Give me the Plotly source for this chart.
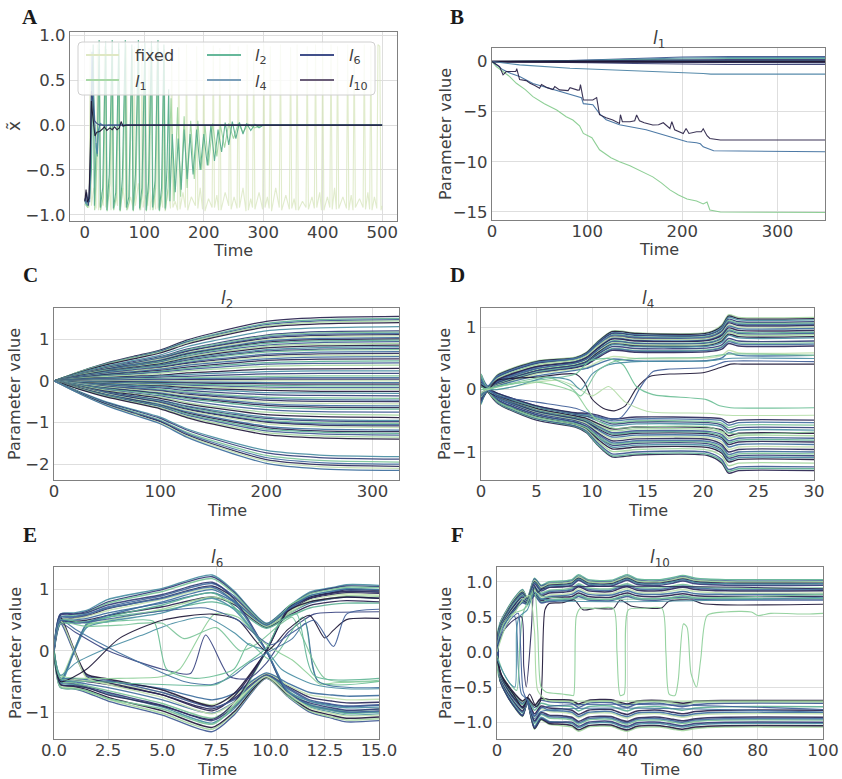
import plotly.graph_objects as go

W, H = 842, 779
FONT = "DejaVu Sans"
TXT = "#404040"

# colour ramp (light green -> dark navy), mixed order for the parameter bundles
PAL = ["#2a2350", "#5fb395", "#3f5a94", "#a5d7a0", "#22193c", "#4a8fa3",
       "#353f7a", "#7cc59a", "#456fa0", "#2d2b5c", "#c3e2b0", "#3d6e9e"]

# ---------------- A: x-tilde over time ----------------
fixed_pts = [(0, -0.85), (5, -0.9), (7, -0.92), (9, 0.85), (11, -0.9), (15, -0.7),
             (19, -0.93), (21, 0.9), (23, -0.95), (28, -0.75), (31, -0.9), (33, 0.88), (35, -0.92), (40, -0.6),
             (44, -0.95), (46, 0.9), (48, -0.93), (52, -0.8), (55, -0.9), (57, 0.85), (59, -0.96), (64, -0.7),
             (68, -0.92), (70, 0.9), (72, -0.94), (77, -0.8), (81, -0.93), (83, 0.88), (85, -0.9), (90, -0.65),
             (94, -0.95), (96, 0.9), (98, -0.92), (102, -0.78), (106, -0.9), (108, 0.86), (110, -0.95), (115, -0.7),
             (119, -0.94), (121, 0.9), (123, -0.93), (128, -0.8), (131, -0.92), (133, 0.88), (135, -0.96), (140, -0.72),
             (144, -0.93), (146, 0.9), (148, -0.92), (152, -0.85), (156, -0.95), (158, 0.87), (160, -0.94), (165, -0.75),
             (169, -0.92), (171, 0.9), (173, -0.95), (179, -0.8), (186, -0.9), (188, 0.88), (190, -0.93), (194, -0.7),
             (198, -0.94), (200, 0.9), (202, -0.96), (208, -0.82), (214, -0.92), (216, 0.89), (218, -0.92), (222, -0.78),
             (225, -0.95), (227, 0.86), (229, -0.95), (236, -0.75), (242, -0.9), (244, 0.9), (246, -0.94), (251, -0.8),
             (256, -0.93), (258, 0.88), (260, -0.92), (266, -0.7), (271, -0.96), (273, 0.9), (275, -0.95), (279, -0.82),
             (282, -0.92), (284, 0.85), (286, -0.94), (293, -0.75), (299, -0.94), (301, 0.9), (303, -0.92), (307, -0.8),
             (310, -0.93), (312, 0.88), (314, -0.96), (321, -0.7), (327, -0.92), (329, 0.9), (331, -0.95), (338, -0.78),
             (344, -0.94), (346, 0.87), (348, -0.93), (352, -0.82), (355, -0.95), (357, 0.9), (359, -0.95), (366, -0.85),
             (372, -0.92), (374, 0.88), (376, -0.94), (382, -0.8), (386, -0.93), (388, 0.9), (390, -0.92), (395, -0.75),
             (398, -0.95), (400, 0.86), (402, -0.95), (408, -0.8), (412, -0.92), (414, 0.9), (416, -0.94), (420, -0.7),
             (423, -0.94), (425, 0.88), (427, -0.93), (434, -0.8), (440, -0.93), (442, 0.9), (444, -0.95), (448, -0.78),
             (451, -0.95), (453, 0.87), (455, -0.92), (462, -0.82), (468, -0.92), (470, 0.9), (472, -0.94), (476, -0.75),
             (479, -0.94), (481, 0.88), (483, -0.95), (487, -0.8), (491, -0.93), (493, 0.9), (496, 0.88), (498, -0.95),
             (500, -0.9)]
l1_pts = [(0, -0.88), (5, -0.92), (9, -0.7), (14.5, 0.82), (16.5, -0.95), (20, -0.45), (24.5, 0.85), (26.5, -0.95),
          (31, -0.8), (35.5, 0.85), (37.5, -0.96), (42, -0.65), (46.5, 0.88), (48.5, -0.95), (53, -0.8), (57.5, 0.85),
          (59.5, -0.96), (64, -0.7), (68.5, 0.88), (70.5, -0.95), (75, -0.85), (79.5, 0.85), (81.5, -0.96), (86, -0.65),
          (90.5, 0.88), (92.5, -0.95), (97, -0.75), (101.5, 0.85), (103.5, -0.96), (108, -0.7), (112.5, 0.88),
          (114.5, -0.95), (119, -0.7), (123.5, 0.86), (125.5, -0.96), (130, -0.75), (133.5, 0.85), (135.5, -0.95),
          (140, -0.7), (145, 0.3), (150, -0.85), (156, 0.2), (161, -0.8), (167, 0.1), (172, -0.7), (178, 0.05),
          (184, -0.6), (190, 0.05), (196, -0.5), (202, 0.0), (208, -0.45), (215, 0.02), (222, -0.35), (228, 0.0),
          (235, -0.25), (242, 0.02), (250, -0.15), (258, 0.02), (266, -0.08), (275, 0.01), (285, -0.03), (300, 0.0),
          (500, 0.0)]
l2_pts = [(0, -0.85), (4, -0.9), (8, -0.82), (11, -0.5), (14, 0.9), (16, -0.9), (19, -0.2), (21, -0.35), (24, 0.95),
          (26, -0.92), (30, -0.7), (35, 0.93), (37, -0.95), (41, -0.55), (46, 0.95), (48, -0.93), (52, -0.75),
          (57, 0.92), (59, -0.95), (63, -0.6), (68, 0.95), (70, -0.92), (74, -0.8), (79, 0.9), (81, -0.95),
          (85, -0.55), (90, 0.95), (92, -0.93), (96, -0.7), (101, 0.92), (103, -0.95), (107, -0.65), (112, 0.93),
          (114, -0.92), (118, -0.62), (123, 0.95), (125, -0.95), (129, -0.7), (133, 0.9), (135, -0.93), (138, -0.5),
          (141, 0.4), (143, -0.85), (147, -0.1), (152, -0.75), (157, -0.15), (162, -0.72), (167, -0.05), (172, -0.6),
          (177, -0.1), (182, -0.55), (188, -0.05), (194, -0.5), (200, -0.1), (206, -0.45), (212, 0.0), (218, -0.4),
          (224, -0.05), (230, -0.3), (236, 0.03), (242, -0.22), (248, 0.04), (254, -0.15), (260, 0.03), (266, -0.1),
          (272, 0.02), (279, -0.06), (286, 0.01), (293, -0.03), (300, 0.0), (500, 0.0)]
l4_pts = [(0, -0.82), (2, -0.88), (5, -0.8), (8, -0.86), (10, -0.3), (12, 0.82), (14, 0.4), (17, -0.1), (19, -0.25),
          (21, -0.32), (23, -0.05), (26, 0.02), (30, 0.0), (35, -0.01), (40, 0.0), (500, 0.0)]
l6_pts = [(0, -0.85), (3, -0.75), (6, -0.9), (9, -0.5), (11, 0.38), (13, 0.3), (16, 0.05), (20, 0.02), (25, 0.0),
          (500, 0.0)]
l10_pts = [(0, -0.85), (2, -0.72), (4, -0.86), (7, -0.82), (9, -0.3), (11, 0.27), (13, 0.12), (15, -0.05),
           (17, -0.12), (20, -0.08), (25, -0.07), (30, -0.04), (33, -0.02), (37, -0.06), (42, -0.03), (46, -0.05),
           (50, -0.02), (54, -0.05), (58, -0.03), (61, 0.04), (64, -0.01), (70, 0.0), (500, 0.0)]
A_series = ["fixed", "l1", "l2", "l4", "l6", "l10"]

# ---------------- B: l_1 parameters ----------------
B_t = [0, 50, 100, 150, 200, 250, 350]
B_rows = [[0, 0.03, 0.15, 0.30, 0.45, 0.50, 0.50],
          [0, 0.02, 0.12, 0.25, 0.35, 0.40, 0.40],
          [0, 0.02, 0.08, 0.18, 0.26, 0.30, 0.30],
          [0, 0.01, 0.05, 0.12, 0.18, 0.20, 0.20],
          [0, 0.00, 0.03, 0.06, 0.09, 0.10, 0.10],
          [0, -0.01, -0.02, -0.04, -0.05, -0.05, -0.05],
          [0, -0.02, -0.06, -0.10, -0.14, -0.15, -0.15],
          [0, -0.04, -0.12, -0.20, -0.28, -0.30, -0.30],
          [0, 0.0, 0.0, 0.0, 0.0, 0.0, 0.0]]
B_small = [(0, 0), (29, -0.33), (82, -0.67), (150, -0.9), (200, -1.1), (222, -1.2), (230, -1.25), (350, -1.25)]
B_green = [(0, 0), (4.5, -0.5), (18.6, -1.5), (25.6, -2.17), (35, -2.8), (43, -3.5), (55, -4.2), (68, -4.83),
           (78, -5.5), (85, -5.83), (92, -6.4), (96, -7.17), (105, -7.6), (113, -8.8), (125, -9.6), (134, -10.0),
           (145, -10.4), (152, -10.7), (160, -11.1), (169, -11.5), (178, -12.1), (187, -12.8), (196, -13.3),
           (205, -13.7), (215, -13.9), (222, -14.2), (226, -14.0), (229, -14.8), (240, -15.0), (350, -15.05)]
B_blue = [(0, 0), (11.6, -0.83), (20, -1.2), (29, -1.5), (43, -2.2), (64, -2.8), (89, -3.5), (94, -3.6), (96, -4.2),
          (106, -4.3), (113, -5.2), (120, -5.8), (134, -6.3), (162, -6.8), (187, -7.5), (205, -8.0), (215, -8.1),
          (219, -8.2), (222, -8.5), (233, -8.9), (350, -9.0)]
B_dark = [(0, 0), (8, -0.5), (11.6, -1.33), (15, -1.0), (22, -1.0), (25, -1.0), (26, -0.7), (29, -1.8), (36, -1.9),
          (40, -2.17), (45, -2.4), (50, -2.67), (52, -2.3), (58, -2.6), (64, -2.8), (66, -2.5), (71, -2.83),
          (80, -2.9), (82, -2.6), (90, -2.85), (92, -2.83), (93, -2.3), (96, -3.83), (106, -3.83), (110, -3.6),
          (113, -5.3), (120, -5.6), (127, -5.83), (134, -6.17), (135, -5.3), (137, -6.0), (145, -6.0), (150, -5.9),
          (152, -5.33), (155, -5.9), (160, -6.1), (169, -6.33), (175, -6.3), (180, -6.1), (187, -6.67), (189, -6.0),
          (192, -6.8), (201, -7.17), (204, -6.67), (207, -7.17), (215, -7.0), (220, -7.0), (222, -6.7), (226, -7.4),
          (229, -7.67), (240, -7.83), (350, -7.83)]

# ---------------- C: l_2 parameters ----------------
C_t = [0, 25, 50, 75, 100, 125, 150, 200, 250, 325]
C_rows = [
    [0, .23, .43, .59, .74, .98, 1.15, 1.43, 1.52, 1.55],
    [0, .23, .42, .57, .72, .95, 1.11, 1.38, 1.47, 1.50],
    [0, .22, .41, .56, .71, .93, 1.09, 1.35, 1.44, 1.47],
    [0, .22, .40, .55, .69, .91, 1.07, 1.32, 1.41, 1.44],
    [0, .21, .39, .53, .67, .88, 1.04, 1.29, 1.37, 1.40],
    [0, .20, .36, .49, .62, .82, .96, 1.20, 1.27, 1.30],
    [0, .18, .34, .46, .58, .76, .89, 1.10, 1.18, 1.20],
    [0, .18, .33, .44, .56, .74, .87, 1.08, 1.15, 1.17],
    [0, .17, .32, .43, .55, .72, .84, 1.05, 1.12, 1.14],
    [0, .17, .31, .42, .53, .70, .82, 1.02, 1.09, 1.11],
    [0, .16, .30, .41, .52, .68, .80, .99, 1.06, 1.08],
    [0, .16, .29, .40, .50, .66, .77, .96, 1.02, 1.04],
    [0, .15, .28, .38, .48, .64, .75, .93, .99, 1.01],
    [0, .15, .27, .37, .47, .62, .73, .90, .96, .98],
    [0, .14, .26, .36, .45, .59, .70, .86, .92, .94],
    [0, .14, .25, .34, .43, .57, .67, .83, .88, .90],
    [0, .13, .24, .33, .41, .54, .64, .79, .84, .86],
    [0, .12, .23, .31, .39, .52, .61, .75, .80, .82],
    [0, .12, .22, .30, .37, .49, .58, .72, .76, .78],
    [0, .11, .21, .29, .36, .47, .56, .69, .74, .75],
    [0, .11, .20, .27, .34, .44, .52, .64, .69, .70],
    [0, .10, .18, .25, .32, .42, .49, .61, .65, .66],
    [0, .09, .17, .24, .30, .39, .46, .57, .61, .62],
    [0, .09, .16, .22, .28, .37, .43, .53, .57, .58],
    [0, .08, .15, .20, .25, .33, .39, .49, .52, .53],
    [0, .07, .13, .18, .23, .30, .36, .44, .47, .48],
    [0, .06, .12, .16, .21, .27, .32, .40, .42, .43],
    [0, .06, .11, .14, .18, .24, .28, .35, .37, .38],
    [0, .05, .08, .11, .14, .19, .22, .28, .29, .30],
    [0, .04, .07, .09, .12, .15, .18, .22, .24, .24],
    [0, .03, .05, .07, .09, .11, .13, .17, .18, .18],
    [0, .02, .03, .05, .06, .08, .09, .11, .12, .12],
    [0, .01, .02, .03, .04, .05, .06, .07, .08, .08],
    [0, .01, .01, .02, .02, .03, .03, .04, .04, .04],
    [0, 0, 0, 0, 0, 0, 0, 0, 0, 0],
    [0, -.01, -.01, -.02, -.02, -.03, -.03, -.04, -.04, -.04],
    [0, -.01, -.02, -.03, -.04, -.05, -.06, -.07, -.08, -.08],
    [0, -.02, -.03, -.05, -.06, -.08, -.09, -.11, -.12, -.12],
    [0, -.02, -.04, -.06, -.08, -.10, -.12, -.15, -.16, -.16],
    [0, -.03, -.06, -.08, -.10, -.13, -.15, -.18, -.20, -.20],
    [0, -.04, -.07, -.10, -.12, -.16, -.19, -.23, -.25, -.25],
    [0, -.05, -.08, -.11, -.14, -.19, -.22, -.28, -.29, -.30],
    [0, -.05, -.10, -.14, -.17, -.23, -.27, -.33, -.35, -.36],
    [0, -.06, -.12, -.16, -.20, -.26, -.31, -.39, -.41, -.42],
    [0, -.07, -.13, -.17, -.22, -.29, -.34, -.42, -.45, -.46],
    [0, -.08, -.14, -.19, -.24, -.32, -.37, -.46, -.49, -.50],
    [0, -.08, -.15, -.21, -.26, -.35, -.41, -.51, -.54, -.55],
    [0, -.09, -.17, -.23, -.29, -.38, -.44, -.55, -.59, -.60],
    [0, -.10, -.18, -.24, -.31, -.40, -.47, -.59, -.63, -.64],
    [0, -.10, -.19, -.26, -.33, -.43, -.50, -.63, -.67, -.68],
    [0, -.11, -.21, -.29, -.36, -.47, -.56, -.69, -.74, -.75],
    [0, -.12, -.23, -.31, -.39, -.52, -.61, -.75, -.80, -.82],
    [0, -.13, -.25, -.33, -.42, -.55, -.65, -.81, -.86, -.88],
    [0, -.14, -.27, -.36, -.46, -.60, -.70, -.87, -.93, -.95],
    [0, -.15, -.27, -.37, -.47, -.62, -.73, -.90, -.96, -.98],
    [0, -.15, -.29, -.39, -.49, -.64, -.75, -.94, -1.00, -1.02],
    [0, -.16, -.29, -.40, -.50, -.66, -.78, -.97, -1.03, -1.05],
    [0, -.16, -.30, -.41, -.52, -.68, -.80, -.99, -1.06, -1.08],
    [0, -.17, -.31, -.43, -.54, -.71, -.83, -1.03, -1.10, -1.12],
    [0, -.18, -.33, -.45, -.57, -.74, -.87, -1.09, -1.16, -1.18],
    [0, -.18, -.34, -.46, -.59, -.77, -.90, -1.12, -1.20, -1.22],
    [0, -.19, -.35, -.48, -.60, -.79, -.93, -1.16, -1.23, -1.26],
    [0, -.20, -.36, -.49, -.62, -.82, -.96, -1.20, -1.27, -1.30],
    [0, -.20, -.38, -.51, -.65, -.85, -1.00, -1.24, -1.32, -1.35],
    [0, -.21, -.39, -.53, -.67, -.88, -1.04, -1.29, -1.37, -1.40],
    [0, -.27, -.51, -.69, -.87, -1.15, -1.35, -1.67, -1.78, -1.82],
    [0, -.28, -.53, -.71, -.90, -1.18, -1.39, -1.73, -1.84, -1.88],
    [0, -.29, -.55, -.74, -.94, -1.23, -1.44, -1.79, -1.91, -1.95],
    [0, -.30, -.56, -.76, -.96, -1.26, -1.48, -1.84, -1.96, -2.00],
    [0, -.31, -.57, -.78, -.98, -1.29, -1.52, -1.89, -2.01, -2.05],
    [0, -.32, -.59, -.80, -1.01, -1.32, -1.55, -1.93, -2.06, -2.10],
    [0, -.32, -.60, -.82, -1.03, -1.35, -1.59, -1.98, -2.11, -2.15],
]

# ---------------- D: l_4 parameters ----------------
D_t = [0, 0.6, 1.5, 5, 8.5, 9.5, 10.5, 11.8, 14, 20.5, 21.7, 22.3, 23.2, 30]
D_rows = [
    [-0.22, 0.02, 0.24, 0.46, 0.52, 0.60, 0.77, 0.94, 0.91, 0.92, 1.04, 1.20, 1.16, 1.16],
    [0.18, 0.03, 0.23, 0.45, 0.51, 0.59, 0.76, 0.93, 0.90, 0.91, 1.02, 1.18, 1.14, 1.14],
    [0.20, 0.05, 0.20, 0.43, 0.50, 0.58, 0.75, 0.91, 0.88, 0.89, 1.00, 1.16, 1.12, 1.12],
    [-0.16, 0.00, 0.21, 0.42, 0.49, 0.57, 0.74, 0.90, 0.87, 0.88, 0.98, 1.13, 1.09, 1.09],
    [-0.18, 0.00, 0.18, 0.40, 0.48, 0.55, 0.71, 0.88, 0.85, 0.86, 0.96, 1.11, 1.07, 1.07],
    [0.25, 0.06, 0.22, 0.44, 0.50, 0.57, 0.72, 0.87, 0.84, 0.85, 0.95, 1.09, 1.05, 1.05],
    [0.22, 0.04, 0.15, 0.38, 0.46, 0.53, 0.68, 0.85, 0.82, 0.83, 0.93, 1.07, 1.03, 1.03],
    [0.14, 0.02, 0.17, 0.39, 0.47, 0.54, 0.69, 0.84, 0.81, 0.82, 0.91, 1.04, 1.00, 1.00],
    [-0.10, -0.02, 0.14, 0.36, 0.45, 0.51, 0.66, 0.82, 0.79, 0.80, 0.89, 1.02, 0.98, 0.98],
    [-0.20, -0.01, 0.16, 0.37, 0.44, 0.51, 0.66, 0.81, 0.78, 0.79, 0.87, 0.99, 0.95, 0.95],
    [0.15, 0.03, 0.12, 0.33, 0.42, 0.49, 0.63, 0.78, 0.75, 0.76, 0.84, 0.96, 0.92, 0.92],
    [-0.08, -0.01, 0.13, 0.34, 0.43, 0.49, 0.63, 0.77, 0.74, 0.75, 0.82, 0.94, 0.90, 0.90],
    [0.10, 0.00, 0.10, 0.31, 0.40, 0.46, 0.60, 0.75, 0.72, 0.73, 0.80, 0.92, 0.88, 0.88],
    [0.06, 0.00, 0.10, 0.30, 0.39, 0.45, 0.59, 0.73, 0.70, 0.71, 0.78, 0.89, 0.85, 0.85],
    [-0.05, -0.03, 0.09, 0.29, 0.38, 0.44, 0.57, 0.72, 0.69, 0.70, 0.76, 0.87, 0.83, 0.83],
    [0.12, 0.02, 0.11, 0.30, 0.39, 0.44, 0.56, 0.69, 0.66, 0.67, 0.72, 0.82, 0.78, 0.78],
    [-0.12, 0.01, 0.09, 0.28, 0.37, 0.42, 0.54, 0.66, 0.63, 0.64, 0.69, 0.79, 0.75, 0.75],
    [0.05, 0.01, 0.08, 0.27, 0.36, 0.41, 0.53, 0.65, 0.62, 0.63, 0.68, 0.77, 0.73, 0.73],
    [0.18, 0.02, 0.08, 0.26, 0.35, 0.40, 0.51, 0.63, 0.60, 0.61, 0.65, 0.74, 0.70, 0.70],
    [0.20, 0.03, 0.07, 0.25, 0.33, 0.36, 0.44, 0.53, 0.50, 0.51, 0.55, 0.63, 0.59, 0.59],
    [-0.15, 0.00, 0.06, 0.22, 0.31, 0.34, 0.41, 0.49, 0.46, 0.47, 0.51, 0.59, 0.55, 0.55],
    [0.22, -0.02, -0.22, -0.49, -0.60, -0.69, -0.89, -1.08, -1.05, -1.06, -1.18, -1.34, -1.30, -1.30],
    [-0.24, 0.01, -0.21, -0.47, -0.59, -0.68, -0.88, -1.06, -1.03, -1.04, -1.15, -1.31, -1.27, -1.27],
    [-0.20, 0.00, -0.20, -0.46, -0.58, -0.66, -0.85, -1.03, -1.00, -1.01, -1.12, -1.28, -1.24, -1.24],
    [0.20, -0.02, -0.19, -0.45, -0.56, -0.64, -0.82, -0.99, -0.96, -0.97, -1.07, -1.22, -1.18, -1.18],
    [0.18, -0.03, -0.18, -0.43, -0.55, -0.62, -0.79, -0.95, -0.92, -0.93, -1.02, -1.16, -1.12, -1.12],
    [-0.18, 0.00, -0.17, -0.41, -0.53, -0.60, -0.76, -0.92, -0.89, -0.90, -0.99, -1.13, -1.09, -1.09],
    [-0.15, 0.02, -0.16, -0.40, -0.52, -0.59, -0.74, -0.89, -0.86, -0.87, -0.96, -1.10, -1.06, -1.06],
    [0.25, -0.02, -0.19, -0.44, -0.55, -0.61, -0.75, -0.87, -0.84, -0.85, -0.94, -1.07, -1.03, -1.03],
    [0.10, -0.01, -0.14, -0.38, -0.50, -0.56, -0.71, -0.85, -0.82, -0.83, -0.91, -1.04, -1.00, -1.00],
    [0.12, 0.01, -0.13, -0.37, -0.49, -0.55, -0.69, -0.82, -0.79, -0.80, -0.88, -1.00, -0.96, -0.96],
    [-0.10, 0.01, -0.12, -0.36, -0.48, -0.54, -0.66, -0.79, -0.76, -0.77, -0.84, -0.96, -0.92, -0.92],
    [-0.22, 0.01, -0.13, -0.35, -0.47, -0.52, -0.64, -0.76, -0.73, -0.74, -0.80, -0.92, -0.88, -0.88],
    [0.15, -0.02, -0.11, -0.34, -0.46, -0.51, -0.62, -0.73, -0.70, -0.71, -0.77, -0.88, -0.84, -0.84],
    [-0.08, 0.00, -0.10, -0.33, -0.45, -0.50, -0.60, -0.71, -0.68, -0.69, -0.75, -0.85, -0.81, -0.81],
    [-0.05, 0.00, -0.10, -0.32, -0.44, -0.48, -0.58, -0.69, -0.66, -0.67, -0.72, -0.82, -0.78, -0.78],
    [0.10, -0.01, -0.09, -0.31, -0.43, -0.47, -0.56, -0.66, -0.63, -0.64, -0.69, -0.78, -0.74, -0.74],
    [0.05, 0.01, -0.09, -0.30, -0.42, -0.46, -0.54, -0.63, -0.60, -0.61, -0.65, -0.74, -0.70, -0.70],
    [0.20, -0.01, -0.08, -0.28, -0.40, -0.43, -0.50, -0.58, -0.55, -0.56, -0.60, -0.69, -0.65, -0.65],
    [-0.18, 0.02, -0.07, -0.27, -0.39, -0.42, -0.47, -0.55, -0.52, -0.53, -0.57, -0.65, -0.61, -0.61],
    [-0.12, 0.00, -0.07, -0.27, -0.38, -0.41, -0.46, -0.53, -0.50, -0.51, -0.54, -0.61, -0.57, -0.57],
    [0.15, 0.00, -0.06, -0.26, -0.38, -0.40, -0.44, -0.50, -0.47, -0.48, -0.50, -0.57, -0.53, -0.53],
    [0.08, 0.02, -0.06, -0.26, -0.37, -0.38, -0.41, -0.47, -0.44, -0.45, -0.47, -0.53, -0.49, -0.49],
]
D_extra = [
    ("#1f1838", [(0, 0.1), (0.6, 0.0), (1.5, 0.15), (5, 0.2), (8.5, 0.25), (9.3, 0.12), (10, -0.15), (11, -0.3),
                 (12, -0.34), (13, -0.26), (14, 0.02), (15.2, 0.21), (17, 0.25), (20, 0.27), (21.5, 0.35),
                 (22.5, 0.41), (23.5, 0.41), (30, 0.41)]),
    ("#42609a", [(0, -0.1), (0.6, 0.0), (1.5, -0.1), (5, -0.2), (8.5, -0.3), (10, -0.4), (11, -0.45), (12.5, -0.46),
                 (13.5, -0.25), (14.3, 0.02), (15.5, 0.29), (17, 0.33), (20.5, 0.36), (22, 0.45), (23, 0.46),
                 (30, 0.45)]),
    ("#6cbf96", [(0, 0.05), (0.6, 0.0), (1.5, 0.05), (5, 0.15), (8.5, 0.25), (9.8, 0.46), (11.5, 0.5), (12.8, 0.4),
                 (14, 0.05), (15.5, -0.08), (20.3, -0.16), (21.5, -0.26), (22.5, -0.29), (30, -0.29)]),
    ("#b5dea9", [(0, -0.05), (0.6, 0.0), (1.5, 0.0), (5, 0.12), (7, 0.15), (8.5, 0.05), (10, -0.1), (11.5, 0.05),
                 (13, -0.2), (15, -0.35), (20.5, -0.38), (22.3, -0.41), (30, -0.41)]),
    ("#4b8fa5", [(0, 0.1), (1, 0.0), (3, 0.05), (6, 0.2), (8, 0.15), (9, 0.0), (10, 0.25), (11.5, 0.4), (14, 0.45),
                 (20.5, 0.46), (22.3, 0.5), (30, 0.5)]),
    ("#8fd09a", [(0, 0.0), (1, 0.02), (3, 0.1), (5, 0.12), (7, 0.05), (8.5, -0.05), (9.5, -0.3), (10.5, -0.5),
                 (12, -0.62), (14, -0.6), (20.5, -0.6), (22.3, -0.7), (30, -0.68)]),
    ("#7cc59a", [(0, 0.0), (0.6, 0.02), (1.5, 0.05), (4, 0.15), (6, 0.2), (8, 0.05), (9, -0.1), (10.5, 0.3),
                 (12, 0.45), (14, 0.5), (20, 0.52), (22.3, 0.57), (30, 0.55)]),
]

# ---------------- E: l_6 parameters ----------------
E_t = [0, 0.3, 0.9, 1.5, 2.5, 5, 7.3, 8.3, 9.8, 10.8, 11.8, 12.8, 13.5, 15]
E_rows = [
    [0.05, 0.60, 0.62, 0.66, 0.84, 1.02, 1.24, 0.98, 0.45, 0.72, 0.96, 1.03, 1.08, 1.07],
    [0.04, 0.58, 0.60, 0.64, 0.80, 1.00, 1.21, 0.96, 0.44, 0.71, 0.94, 1.02, 1.06, 1.05],
    [0.00, 0.55, 0.58, 0.62, 0.78, 0.97, 1.18, 0.94, 0.43, 0.70, 0.93, 1.00, 1.04, 1.03],
    [0.02, 0.52, 0.55, 0.59, 0.72, 0.90, 1.10, 0.90, 0.41, 0.66, 0.88, 0.95, 0.98, 0.97],
    [-0.03, 0.50, 0.53, 0.57, 0.69, 0.87, 1.06, 0.87, 0.41, 0.64, 0.85, 0.92, 0.95, 0.94],
    [-0.02, 0.50, 0.52, 0.56, 0.66, 0.84, 1.02, 0.85, 0.40, 0.63, 0.83, 0.90, 0.93, 0.91],
    [0.03, 0.48, 0.50, 0.53, 0.62, 0.78, 0.95, 0.80, 0.39, 0.60, 0.78, 0.85, 0.88, 0.86],
    [0.01, 0.46, 0.48, 0.50, 0.58, 0.72, 0.88, 0.76, 0.38, 0.57, 0.74, 0.80, 0.82, 0.80],
    [0.00, 0.44, 0.46, 0.48, 0.55, 0.66, 0.80, 0.70, 0.37, 0.55, 0.70, 0.76, 0.78, 0.78],
    [-0.05, -0.60, -0.62, -0.68, -0.82, -1.05, -1.32, -1.05, -0.45, -0.75, -1.00, -1.10, -1.16, -1.14],
    [0.04, -0.58, -0.60, -0.66, -0.79, -1.02, -1.28, -1.02, -0.44, -0.74, -0.98, -1.08, -1.13, -1.11],
    [0.00, -0.55, -0.58, -0.63, -0.76, -0.98, -1.25, -1.00, -0.43, -0.72, -0.96, -1.05, -1.10, -1.08],
    [-0.02, -0.52, -0.55, -0.60, -0.70, -0.92, -1.18, -0.95, -0.41, -0.68, -0.92, -1.00, -1.05, -1.03],
    [-0.01, -0.50, -0.53, -0.58, -0.68, -0.89, -1.14, -0.92, -0.40, -0.66, -0.89, -0.97, -1.00, -0.98],
    [0.02, -0.50, -0.52, -0.57, -0.65, -0.86, -1.10, -0.90, -0.40, -0.65, -0.87, -0.95, -0.98, -0.95],
    [-0.03, -0.48, -0.50, -0.54, -0.60, -0.80, -1.02, -0.84, -0.39, -0.62, -0.82, -0.88, -0.91, -0.89],
    [0.00, -0.46, -0.47, -0.50, -0.55, -0.72, -0.95, -0.78, -0.38, -0.58, -0.76, -0.82, -0.85, -0.84],
    [0.02, -0.45, -0.46, -0.49, -0.53, -0.68, -0.88, -0.74, -0.37, -0.56, -0.72, -0.77, -0.80, -0.79],
    [0.00, -0.44, -0.45, -0.47, -0.50, -0.62, -0.80, -0.70, -0.36, -0.53, -0.68, -0.72, -0.74, -0.73],
    [0.05, 0.50, 0.02, -0.42, -0.52, -0.72, -0.98, -0.75, 0.00, 0.70, 0.88, 0.95, 1.00, 0.99],
    [-0.05, -0.50, -0.02, 0.42, 0.55, 0.75, 0.95, 0.72, 0.00, -0.72, -0.90, -0.97, -1.02, -1.00],
    [0.00, 0.45, 0.00, -0.40, -0.48, -0.68, -0.92, -0.80, -0.40, -0.60, -0.80, -0.87, -0.90, -0.88],
    [0.00, -0.45, 0.00, 0.40, 0.50, 0.68, 0.88, 0.78, 0.40, 0.60, 0.80, 0.86, 0.90, 0.89],
    [0.02, 0.55, 0.05, -0.38, -0.46, -0.64, -0.90, -0.70, 0.00, 0.65, 0.80, 0.86, 0.88, 0.86],
    [-0.02, -0.55, -0.05, 0.38, 0.48, 0.62, 0.86, 0.68, 0.00, -0.66, -0.82, -0.90, -0.93, -0.92],
    [0.03, 0.60, 0.60, 0.62, 0.75, 0.92, 1.12, 0.85, 0.00, -0.70, -0.85, -0.93, -0.97, -0.95],
    [-0.03, -0.60, -0.62, -0.65, -0.78, -0.95, -1.20, -0.90, 0.00, 0.72, 0.90, 0.98, 1.02, 1.00],
    [0.02, 0.55, 0.56, 0.60, 0.70, 0.86, 1.04, 0.80, 0.00, -0.68, -0.88, -0.96, -1.00, -0.99],
    [-0.02, -0.55, -0.57, -0.60, -0.72, -0.90, -1.12, -0.85, 0.00, 0.68, 0.86, 0.94, 0.97, 0.96],
    [0.03, 0.50, 0.03, -0.44, -0.55, -0.76, -1.03, -0.85, -0.42, -0.70, -0.93, -1.02, -1.06, -1.05],
    [-0.03, -0.50, -0.03, 0.44, 0.58, 0.80, 1.00, 0.82, 0.42, 0.68, 0.90, 0.97, 1.01, 1.00],
]
E_extra = [
    ("#3a4582", [(0, 0), (0.3, 0.45), (1, 0.3), (2.5, 0.0), (5, -0.3), (6.3, -0.37), (7.0, 0.26), (8.1, -0.42),
                 (9.0, -0.45), (9.8, -0.2), (10.8, 0.3), (12, 0.6), (13, 0.63), (15, 0.64)]),
    ("#8fd09a", [(0, 0), (0.3, -0.4), (1.5, -0.45), (3, -0.45), (5, -0.42), (5.8, -0.3), (7.4, 0.6), (8.5, 0.55),
                 (9.2, 0.3), (10, 0.05), (11, -0.15), (11.8, -0.4), (12.3, -0.55), (13, -0.52), (15, -0.5)]),
    ("#6cbf96", [(0, 0), (0.3, 0.5), (1.5, 0.45), (3.5, 0.5), (4.6, 0.48), (5.2, -0.3), (6.5, -0.45), (8.3, -0.3),
                 (9.0, 0.12), (10, -0.15), (11.5, 0.55), (12.2, -0.5), (15, -0.5)]),
    ("#4673a0", [(0, 0), (0.3, 0.5), (1, 0.35), (2, 0.15), (4, -0.2), (6, -0.5), (7.3, -0.55), (8.3, -0.4),
                 (9, -0.2), (10, 0.0), (11, 0.2), (11.6, 0.45), (12.2, -0.5), (15, -0.6)]),
    ("#4b8fa5", [(0, 0), (0.3, -0.4), (1, -0.2), (2.5, 0.05), (4, 0.25), (5.5, 0.45), (7, 0.55), (8.3, 0.3),
                 (9, 0.1), (9.8, 0.0), (10.5, -0.3), (12, -0.55), (13.5, -0.62), (15, -0.62)]),
    ("#7cc59a", [(0, 0), (0.3, 0.45), (1.5, 0.4), (3, 0.42), (5, 0.45), (6, 0.2), (7.5, 0.38), (8.6, 0.0),
                 (9.3, 0.1), (10.5, 0.45), (11, 0.55), (11.5, 0.2), (12.5, -0.45), (15, -0.48)]),
    ("#1f1838", [(0, 0), (0.3, -0.5), (1.5, -0.3), (3, 0.2), (5, 0.5), (7.3, 0.6), (8.5, 0.5), (9.8, 0.0),
                 (10.8, 0.35), (11.8, 0.58), (12.5, 0.21), (12.9, 0.34), (13.5, 0.51), (15, 0.53)]),
    ("#42609a", [(0, 0), (0.3, 0.5), (1, 0.45), (3, 0.55), (5, 0.65), (7, 0.7), (8.5, 0.5), (10, 0.1), (11, 0.3),
                 (12, 0.5), (12.9, 0.07), (13.5, 0.6), (15, 0.68)]),
    ("#63b797", [(0, 0), (0.3, -0.45), (2, -0.5), (5, -0.55), (7.5, -0.55), (8.5, -0.3), (9.8, 0.05), (10.5, 0.5),
                 (11.2, 0.6), (12, -0.4), (15, -0.45)]),
]

# ---------------- F: l_10 parameters ----------------
F_t = [0, 1, 3, 5.5, 7.8, 9.3, 11.5, 13.5, 16, 20, 23, 25, 28, 35, 38, 40, 43, 50, 54, 57, 61, 70, 100]
F_rows = [
    [0.25, 0.42, 0.6, 0.78, 0.89, 0.77, 1.05, 0.95, 1.0, 1.01, 1.03, 1.1, 1.03, 1.02, 1.07, 1.1, 1.04, 1.03, 1.06, 1.09, 1.05, 1.03, 1.03],
    [-0.25, 0.41, 0.59, 0.77, 0.88, 0.76, 1.04, 0.94, 0.98, 0.99, 1.01, 1.08, 1.01, 1.0, 1.05, 1.08, 1.02, 1.01, 1.04, 1.07, 1.03, 1.01, 1.01],
    [-0.2, 0.4, 0.58, 0.76, 0.87, 0.76, 1.02, 0.92, 0.97, 0.98, 1.0, 1.07, 1.0, 0.99, 1.04, 1.07, 1.01, 1.0, 1.03, 1.06, 1.02, 1.0, 1.0],
    [0.2, 0.38, 0.56, 0.74, 0.85, 0.75, 1.0, 0.9, 0.95, 0.96, 0.98, 1.05, 0.98, 0.97, 1.02, 1.05, 0.99, 0.98, 1.01, 1.04, 1.0, 0.98, 0.98],
    [0.0, 0.37, 0.55, 0.73, 0.84, 0.74, 0.99, 0.89, 0.94, 0.95, 0.97, 1.04, 0.97, 0.96, 1.01, 1.04, 0.98, 0.97, 1.0, 1.03, 0.99, 0.97, 0.97],
    [-0.15, 0.36, 0.54, 0.72, 0.83, 0.74, 0.97, 0.87, 0.92, 0.93, 0.95, 1.02, 0.95, 0.94, 0.99, 1.02, 0.96, 0.95, 0.98, 1.01, 0.97, 0.95, 0.95],
    [0.15, 0.35, 0.52, 0.7, 0.81, 0.73, 0.93, 0.84, 0.88, 0.89, 0.91, 0.97, 0.91, 0.9, 0.95, 0.97, 0.92, 0.91, 0.94, 0.96, 0.93, 0.91, 0.91],
    [0.12, 0.34, 0.51, 0.68, 0.8, 0.72, 0.92, 0.82, 0.86, 0.87, 0.89, 0.95, 0.89, 0.88, 0.93, 0.95, 0.9, 0.89, 0.92, 0.94, 0.91, 0.89, 0.89],
    [-0.1, 0.33, 0.5, 0.67, 0.78, 0.71, 0.9, 0.8, 0.84, 0.85, 0.87, 0.93, 0.87, 0.86, 0.91, 0.93, 0.88, 0.87, 0.9, 0.92, 0.89, 0.87, 0.87],
    [0.1, 0.32, 0.48, 0.64, 0.76, 0.7, 0.87, 0.77, 0.81, 0.82, 0.84, 0.9, 0.84, 0.83, 0.88, 0.9, 0.85, 0.84, 0.87, 0.89, 0.86, 0.84, 0.84],
    [-0.12, 0.32, 0.47, 0.63, 0.75, 0.7, 0.85, 0.75, 0.79, 0.8, 0.82, 0.87, 0.82, 0.81, 0.85, 0.87, 0.83, 0.82, 0.84, 0.86, 0.83, 0.82, 0.82],
    [-0.05, 0.31, 0.46, 0.62, 0.73, 0.69, 0.83, 0.73, 0.77, 0.78, 0.79, 0.84, 0.79, 0.78, 0.82, 0.84, 0.8, 0.79, 0.81, 0.83, 0.8, 0.79, 0.79],
    [0.08, 0.3, 0.45, 0.6, 0.71, 0.68, 0.81, 0.71, 0.74, 0.75, 0.76, 0.81, 0.76, 0.75, 0.79, 0.81, 0.77, 0.76, 0.78, 0.8, 0.77, 0.76, 0.76],
    [0.05, 0.3, 0.45, 0.6, 0.7, 0.68, 0.8, 0.7, 0.72, 0.73, 0.74, 0.79, 0.74, 0.73, 0.77, 0.79, 0.75, 0.74, 0.76, 0.78, 0.75, 0.74, 0.74],
    [-0.25, -0.42, -0.62, -0.8, -0.92, -0.72, -1.1, -0.97, -1.03, -1.05, -1.07, -1.13, -1.07, -1.06, -1.11, -1.13, -1.08, -1.07, -1.1, -1.12, -1.09, -1.07, -1.07],
    [0.0, -0.41, -0.61, -0.79, -0.91, -0.72, -1.09, -0.96, -1.02, -1.03, -1.05, -1.11, -1.05, -1.04, -1.09, -1.11, -1.06, -1.05, -1.08, -1.1, -1.07, -1.05, -1.05],
    [0.2, -0.4, -0.6, -0.78, -0.9, -0.72, -1.06, -0.93, -0.99, -1.0, -1.02, -1.08, -1.02, -1.01, -1.06, -1.08, -1.03, -1.02, -1.05, -1.07, -1.04, -1.02, -1.02],
    [0.25, -0.41, -0.61, -0.79, -0.91, -0.72, -1.08, -0.95, -1.0, -1.0, -1.0, -1.06, -1.0, -0.99, -1.04, -1.06, -1.01, -1.0, -1.03, -1.05, -1.02, -1.0, -1.0],
    [-0.2, -0.38, -0.57, -0.75, -0.87, -0.71, -1.02, -0.89, -0.94, -0.95, -0.97, -1.03, -0.97, -0.96, -1.01, -1.03, -0.98, -0.97, -1.0, -1.02, -0.99, -0.97, -0.97],
    [-0.12, -0.37, -0.56, -0.74, -0.86, -0.71, -1.0, -0.88, -0.92, -0.93, -0.95, -1.01, -0.95, -0.94, -0.99, -1.01, -0.96, -0.95, -0.98, -1.0, -0.97, -0.95, -0.95],
    [0.15, -0.36, -0.55, -0.72, -0.84, -0.7, -0.98, -0.86, -0.9, -0.91, -0.93, -0.99, -0.93, -0.92, -0.97, -0.99, -0.94, -0.93, -0.96, -0.98, -0.95, -0.93, -0.93],
    [-0.15, -0.35, -0.53, -0.7, -0.81, -0.69, -0.93, -0.81, -0.85, -0.86, -0.88, -0.94, -0.88, -0.87, -0.92, -0.94, -0.89, -0.88, -0.91, -0.93, -0.9, -0.88, -0.88],
    [0.12, -0.34, -0.52, -0.69, -0.8, -0.69, -0.91, -0.79, -0.83, -0.84, -0.86, -0.92, -0.86, -0.85, -0.9, -0.92, -0.87, -0.86, -0.89, -0.91, -0.88, -0.86, -0.86],
    [0.1, -0.33, -0.5, -0.67, -0.78, -0.68, -0.88, -0.77, -0.8, -0.81, -0.83, -0.89, -0.83, -0.82, -0.87, -0.89, -0.84, -0.83, -0.86, -0.88, -0.85, -0.83, -0.83],
    [-0.1, -0.32, -0.48, -0.64, -0.75, -0.67, -0.83, -0.73, -0.76, -0.77, -0.78, -0.84, -0.78, -0.77, -0.82, -0.84, -0.79, -0.78, -0.81, -0.83, -0.8, -0.78, -0.78],
    [0.05, -0.31, -0.46, -0.62, -0.73, -0.66, -0.79, -0.69, -0.71, -0.72, -0.73, -0.79, -0.73, -0.72, -0.77, -0.79, -0.74, -0.73, -0.76, -0.78, -0.75, -0.73, -0.73],
    [-0.08, -0.3, -0.45, -0.61, -0.71, -0.65, -0.77, -0.67, -0.69, -0.7, -0.71, -0.76, -0.71, -0.7, -0.74, -0.76, -0.72, -0.71, -0.73, -0.75, -0.72, -0.71, -0.71],
    [-0.05, -0.3, -0.45, -0.6, -0.7, -0.65, -0.76, -0.66, -0.68, -0.68, -0.69, -0.74, -0.69, -0.68, -0.72, -0.74, -0.7, -0.69, -0.71, -0.73, -0.7, -0.69, -0.69],
]
F_extra = [
    ("#1f1838", [(0, -0.1), (2, -0.4), (5, -0.6), (8, -0.8), (10, -0.6), (12, -0.78), (13.3, -0.7), (14.7, 0.6),
                 (16, 0.69), (20, 0.7), (23.7, 0.74), (26.4, 0.6), (30, 0.62), (35.7, 0.62), (37.8, 0.74),
                 (41.4, 0.65), (50.6, 0.63), (52.6, 0.72), (59.7, 0.74), (62.8, 0.69), (70, 0.67), (100, 0.68)]),
    ("#8fd09a", [(0, 0.1), (2, 0.4), (5, 0.55), (8, 0.6), (10, 0.7), (11.5, 0.9), (12.5, 0.3), (13.5, -0.5),
                 (15, -0.57), (20, -0.6), (23, -0.62), (23.5, -0.62), (24.3, 0.5), (25.5, 0.62), (30, 0.62),
                 (35.7, 0.62), (36.8, 0.0), (37.8, -0.62), (39, -0.6), (40.3, 0.6), (45, 0.62), (50.6, 0.62),
                 (51.8, 0.0), (52.8, -0.6), (54.6, -0.62), (55.6, -0.4), (57.2, 0.4), (58.3, 0.35), (59.5, -0.3),
                 (61.2, -0.5), (62.5, -0.1), (64.5, 0.52), (70, 0.57), (78, 0.57), (80, 0.52), (84, 0.55),
                 (95, 0.54), (100, 0.55)]),
    ("#4673a0", [(0, 0.1), (2, 0.35), (4, 0.5), (5.5, 0.5), (6.5, -0.2), (7.5, -0.6), (9.3, -0.68), (11.5, -0.95),
                 (13.5, -0.85), (100, -0.86)]),
    ("#7cc59a", [(0, -0.05), (2, -0.3), (4, -0.45), (6, -0.55), (7, 0.1), (8, 0.55), (9.3, 0.7), (11.5, 0.9),
                 (13.5, 0.8), (100, 0.82)]),
    ("#2d2b5c", [(0, 0.05), (2, 0.3), (5, 0.45), (7.5, 0.5), (8.2, -0.2), (9, -0.5), (10.5, 0.3), (11.5, 0.95),
                 (12.5, 0.85), (14, 0.9), (100, 0.9)]),
    ("#4b8fa5", [(0, -0.1), (2, -0.3), (4, -0.45), (5.5, -0.5), (6, 0.3), (6.8, 0.5), (9.3, 0.6), (11.5, 0.85),
                 (13.5, 0.76), (100, 0.78)]),
    ("#42609a", [(0, 0.05), (2, 0.3), (4.5, 0.48), (6.5, 0.55), (7.2, 0.1), (8, -0.55), (9.3, -0.7), (11.5, -0.92),
                 (13.5, -0.8), (100, -0.82)]),
    ("#a5d7a0", [(0, 0.0), (3, 0.4), (6, 0.6), (8, 0.75), (10, 0.8), (11.5, 0.3), (12.5, -0.55), (15, -0.68),
                 (20, -0.7), (30, -0.7), (100, -0.7)]),
]

# ---------------- figure layout ----------------
# plot boxes in pixels: (left, right, top, bottom)
BOX = {"": (70, 397, 32, 221), "2": (492, 825, 48, 220), "3": (54, 399, 308, 480),
       "4": (481, 814, 308, 480), "5": (54, 379, 567, 739), "6": (497, 823, 567, 739)}


def px_x(v):
    return v / W


def px_y(v):
    return 1 - v / H


fig = go.Figure()


def add_line(ax, xs, ys, color, width=1.1, shape="spline", opacity=0.92):
    fig.add_trace(go.Scatter(
        x=list(xs), y=list(ys), mode="lines",
        line=dict(color=color, width=width, shape=shape, smoothing=0.7),
        opacity=opacity, xaxis="x" + ax, yaxis="y" + ax,
        showlegend=False, hoverinfo="skip"))


def add_rows(ax, t, rows, offset=0, width=1.3):
    for i, ys in enumerate(rows):
        add_line(ax, t, ys, PAL[(i + offset) % len(PAL)], width=width)


def add_pts(ax, pts, color, width=1.1, shape="spline", opacity=0.92):
    xs, ys = zip(*pts)
    add_line(ax, xs, ys, color, width=width, shape=shape, opacity=opacity)


# A
A_colors = {"fixed": "#d8e6bd", "l1": "#a3d7a1", "l2": "#5aae8e", "l4": "#4a84a6",
            "l6": "#39477f", "l10": "#1f1a35"}
A_data = {"fixed": fixed_pts, "l1": l1_pts, "l2": l2_pts, "l4": l4_pts, "l6": l6_pts, "l10": l10_pts}
for name in A_series:
    add_pts("", A_data[name], A_colors[name], width=1.1, shape="linear",
            opacity=0.75 if name == "fixed" else 0.95)

# B
B_colors = ["#3f5690", "#4a86a2", "#5aaf98", "#353c73", "#4673a0", "#281f4a", "#3f5690", "#353c73", "#1e1533"]
for i, ys in enumerate(B_rows):
    add_line("2", B_t, ys, B_colors[i], width=2.2 if i == len(B_rows) - 1 else 1.1, shape="linear")
add_pts("2", B_small, "#4a82a5", shape="linear")
add_pts("2", B_green, "#86cc8e", shape="linear")
add_pts("2", B_blue, "#3f6f9f", shape="linear")
add_pts("2", B_dark, "#2b2348", shape="linear")

# C, D, E, F
add_rows("3", C_t, C_rows, width=1.25)
add_rows("4", D_t, D_rows, offset=3, width=1.4)
for col, pts in D_extra:
    add_pts("4", pts, col)
add_rows("5", E_t, E_rows, offset=5, width=1.4)
for col, pts in E_extra:
    add_pts("5", pts, col)
add_rows("6", F_t, F_rows, offset=1, width=1.5)
for col, pts in F_extra:
    add_pts("6", pts, col)

# axes
AX_SPEC = {
    "": dict(xr=[-25, 525], xt=[0, 100, 200, 300, 400, 500], xf="d",
             yr=[-1.07, 1.04], yt=[-1.0, -0.5, 0.0, 0.5, 1.0], yf=".1f"),
    "2": dict(xr=[0, 350], xt=[0, 100, 200, 300], xf="d",
              yr=[-15.8, 1.35], yt=[-15, -10, -5, 0], yf="d"),
    "3": dict(xr=[0, 325], xt=[0, 100, 200, 300], xf="d",
              yr=[-2.38, 1.75], yt=[-2, -1, 0, 1], yf="d"),
    "4": dict(xr=[0, 30], xt=[0, 5, 10, 15, 20, 25, 30], xf="d",
              yr=[-1.45, 1.31], yt=[-1, 0, 1], yf="d"),
    "5": dict(xr=[0, 15], xt=[0, 2.5, 5, 7.5, 10, 12.5, 15], xf=".1f",
              yr=[-1.44, 1.37], yt=[-1, 0, 1], yf="d"),
    "6": dict(xr=[0, 100], xt=[0, 20, 40, 60, 80, 100], xf="d",
              yr=[-1.24, 1.21], yt=[-1.0, -0.5, 0.0, 0.5, 1.0], yf=".1f"),
}

TICK = 16.5
common = dict(showgrid=True, gridcolor="#dedede", gridwidth=1.2, zeroline=False,
              showline=True, linecolor="#808080", linewidth=1.3, mirror=True,
              ticks="", automargin=False, fixedrange=True,
              tickfont=dict(family=FONT, size=TICK, color=TXT))

layout_axes = {}
for ax, spec in AX_SPEC.items():
    l, r, t, b = BOX[ax]
    layout_axes["xaxis" + ax] = dict(common, domain=[px_x(l), px_x(r)], range=spec["xr"],
                                     tickvals=spec["xt"], tickformat=spec["xf"], anchor="y" + ax,
                                     ticklabelstandoff=-4)
    layout_axes["yaxis" + ax] = dict(common, domain=[px_y(b), px_y(t)], range=spec["yr"],
                                     tickvals=spec["yt"], tickformat=spec["yf"], anchor="x" + ax)

annotations = []


def label(text, x, y, size=16, angle=0, family=FONT, color=TXT, xanchor="center", yanchor="middle"):
    annotations.append(dict(text=text, x=px_x(x), y=px_y(y), xref="paper", yref="paper",
                            showarrow=False, textangle=angle, xanchor=xanchor, yanchor=yanchor,
                            font=dict(family=family, size=size, color=color)))


# panel letters
for letter, x, y in [("A", 30, 17), ("B", 457, 17), ("C", 30, 275), ("D", 457, 275),
                     ("E", 30, 535), ("F", 457, 535)]:
    label("<b>" + letter + "</b>", x, y, size=21, family="Liberation Serif", color="#1a1a1a")

# panel titles
for ax, sub in [("2", "1"), ("3", "2"), ("4", "4"), ("5", "6"), ("6", "10")]:
    l, r, t, b = BOX[ax]
    label("<i>l</i><sub>" + sub + "</sub>", (l + r) / 2, t + 5, size=17, yanchor="bottom")

# axis titles
for ax in BOX:
    l, r, t, b = BOX[ax]
    label("Time", (l + r) / 2, b + 30, size=16)
for ax, x in [("2", 445), ("3", 15), ("4", 445), ("5", 15), ("6", 445)]:
    l, r, t, b = BOX[ax]
    label("Parameter value", x, (t + b) / 2, size=16, angle=-90)
label("x\u0303", 14, 126, size=17, angle=-90)

# legend of panel A
shapes = []
lx0, lx1, ly0, ly1, rad = 78, 375, 42, 95, 4
path = (f"M {px_x(lx0 + rad)},{px_y(ly0)} L {px_x(lx1 - rad)},{px_y(ly0)} "
        f"Q {px_x(lx1)},{px_y(ly0)} {px_x(lx1)},{px_y(ly0 + rad)} L {px_x(lx1)},{px_y(ly1 - rad)} "
        f"Q {px_x(lx1)},{px_y(ly1)} {px_x(lx1 - rad)},{px_y(ly1)} L {px_x(lx0 + rad)},{px_y(ly1)} "
        f"Q {px_x(lx0)},{px_y(ly1)} {px_x(lx0)},{px_y(ly1 - rad)} L {px_x(lx0)},{px_y(ly0 + rad)} "
        f"Q {px_x(lx0)},{px_y(ly0)} {px_x(lx0 + rad)},{px_y(ly0)} Z")
shapes.append(dict(type="path", path=path, xref="paper", yref="paper",
                   fillcolor="rgba(255,255,255,0.8)", line=dict(color="#d0d0d0", width=1), layer="above"))
legend_items = [("fixed", "fixed", 86, 119, 133, 55, "#dfe8c4"),
                ("l1", "<i>l</i><sub>1</sub>", 86, 119, 133, 80, "#a8d8a6"),
                ("l2", "<i>l</i><sub>2</sub>", 207, 241, 253, 55, "#66b89a"),
                ("l4", "<i>l</i><sub>4</sub>", 207, 241, 253, 80, "#7b9fba"),
                ("l6", "<i>l</i><sub>6</sub>", 300, 334, 347, 55, "#414f8a"),
                ("l10", "<i>l</i><sub>10</sub>", 300, 334, 347, 80, "#6a5d78")]
for key, text, x0, x1, tx, y, col in legend_items:
    shapes.append(dict(type="line", xref="paper", yref="paper", x0=px_x(x0), x1=px_x(x1),
                       y0=px_y(y), y1=px_y(y), line=dict(color=col, width=2), layer="above"))
    label(text, tx, y + (0 if key == "fixed" else 2), size=16, xanchor="left")

fig.update_layout(
    width=W, height=H, margin=dict(l=0, r=0, t=0, b=0),
    paper_bgcolor="white", plot_bgcolor="white",
    showlegend=False, annotations=annotations, shapes=shapes,
    font=dict(family=FONT, color=TXT),
    **layout_axes)

fig.write_html("out.html")
